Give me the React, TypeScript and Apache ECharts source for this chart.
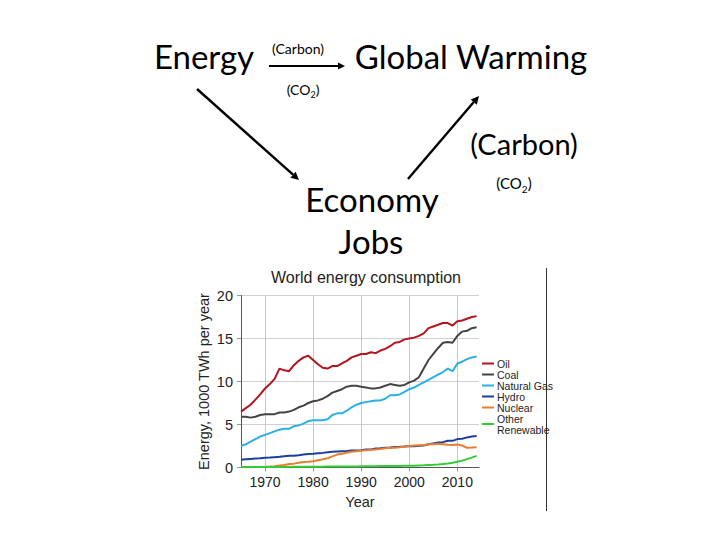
import React, { useEffect, useRef } from "react";
import * as echarts from "echarts";

const startYear = 1965;
const yearTicks = [1970, 1980, 1990, 2000, 2010];
const yTicks = [0, 5, 10, 15, 20];

const oil = [6.5, 6.9, 7.3, 7.9, 8.5, 9.2, 9.7, 10.3, 11.5, 11.3, 11.2, 11.9, 12.4, 12.8, 13.0, 12.5, 12.0, 11.6, 11.5, 11.8, 11.8, 12.1, 12.4, 12.8, 13.0, 13.2, 13.2, 13.4, 13.3, 13.6, 13.8, 14.1, 14.5, 14.6, 14.9, 15.0, 15.1, 15.3, 15.6, 16.2, 16.4, 16.6, 16.8, 16.8, 16.5, 17.0, 17.1, 17.3, 17.5, 17.6];
const coal = [5.9, 5.9, 5.8, 5.9, 6.1, 6.2, 6.2, 6.2, 6.4, 6.4, 6.5, 6.7, 7.0, 7.2, 7.5, 7.7, 7.8, 8.0, 8.3, 8.7, 8.9, 9.1, 9.4, 9.5, 9.5, 9.4, 9.3, 9.2, 9.2, 9.3, 9.5, 9.7, 9.6, 9.5, 9.6, 9.9, 10.1, 10.5, 11.5, 12.5, 13.2, 13.9, 14.5, 14.6, 14.5, 15.3, 15.8, 15.9, 16.2, 16.3];
const gas = [2.5, 2.7, 3.0, 3.3, 3.6, 3.8, 4.0, 4.2, 4.4, 4.5, 4.5, 4.8, 4.9, 5.1, 5.4, 5.5, 5.5, 5.5, 5.6, 6.1, 6.3, 6.3, 6.6, 7.0, 7.3, 7.5, 7.6, 7.7, 7.8, 7.8, 8.0, 8.4, 8.4, 8.5, 8.8, 9.1, 9.3, 9.6, 9.9, 10.2, 10.5, 10.8, 11.1, 11.5, 11.2, 12.1, 12.3, 12.6, 12.8, 12.9];
const hydro = [0.9, 0.95, 1.0, 1.05, 1.08, 1.12, 1.15, 1.2, 1.25, 1.32, 1.36, 1.38, 1.42, 1.5, 1.58, 1.6, 1.65, 1.7, 1.77, 1.82, 1.86, 1.9, 1.92, 1.97, 1.98, 2.02, 2.08, 2.1, 2.2, 2.23, 2.3, 2.33, 2.38, 2.4, 2.44, 2.5, 2.48, 2.52, 2.55, 2.7, 2.8, 2.9, 2.95, 3.1, 3.1, 3.3, 3.35, 3.5, 3.6, 3.65];
const nuclear = [0.03, 0.04, 0.05, 0.06, 0.07, 0.09, 0.12, 0.16, 0.22, 0.3, 0.4, 0.45, 0.55, 0.65, 0.68, 0.73, 0.85, 0.95, 1.08, 1.3, 1.5, 1.6, 1.72, 1.83, 1.88, 1.95, 2.02, 2.05, 2.1, 2.15, 2.25, 2.3, 2.3, 2.35, 2.45, 2.5, 2.55, 2.6, 2.58, 2.7, 2.7, 2.75, 2.7, 2.65, 2.62, 2.68, 2.55, 2.3, 2.32, 2.35];
const other = [0.05, 0.05, 0.05, 0.06, 0.06, 0.06, 0.06, 0.07, 0.07, 0.07, 0.08, 0.08, 0.08, 0.09, 0.09, 0.1, 0.1, 0.1, 0.11, 0.11, 0.12, 0.12, 0.12, 0.13, 0.13, 0.14, 0.14, 0.15, 0.15, 0.16, 0.16, 0.17, 0.18, 0.18, 0.19, 0.2, 0.21, 0.23, 0.25, 0.28, 0.31, 0.35, 0.4, 0.47, 0.55, 0.68, 0.8, 0.97, 1.15, 1.35];

const seriesNames = ["Oil", "Coal", "Natural Gas", "Hydro", "Nuclear", "Other Renewable"];
const seriesValues = [oil, coal, gas, hydro, nuclear, other];
const seriesColors = ["#b3141e", "#444444", "#2bb0e2", "#1b3fa0", "#ec7d2c", "#33cc33"];

const diagramFont = "Lato, 'Open Sans', sans-serif";
const chartFont = "'Liberation Sans', Arial, sans-serif";

function arrow(x1: number, y1: number, x2: number, y2: number, head = 7, width = 2.2) {
  const ang = Math.atan2(y2 - y1, x2 - x1);
  const c = Math.cos(ang);
  const s = Math.sin(ang);
  const bx = x2 - head * c;
  const by = y2 - head * s;
  const hw = head * 0.5;
  return [
    {
      type: "line",
      shape: { x1, y1, x2: bx, y2: by },
      style: { stroke: "#000", lineWidth: width },
    },
    {
      type: "polygon",
      shape: {
        points: [
          [x2, y2],
          [bx - s * hw, by + c * hw],
          [bx + s * hw, by - c * hw],
        ],
      },
      style: { fill: "#000" },
    },
  ];
}

function label(text: string, x: number, y: number, size: number, rich?: any) {
  return {
    type: "text",
    x,
    y,
    style: {
      text,
      fontFamily: diagramFont,
      fontSize: size,
      fill: "#000",
      align: "center",
      verticalAlign: "middle",
      rich,
    },
  };
}

const subRich = (base: number) => ({
  b: { fontSize: base, fontFamily: diagramFont, fill: "#000", lineHeight: base * 1.3 },
  s: {
    fontSize: Math.round(base * 0.65),
    fontFamily: diagramFont,
    fill: "#000",
    padding: [Math.round(base * 0.7), 0, 0, 0],
  },
});

export default function App() {
  const ref = useRef<HTMLDivElement>(null);

  useEffect(() => {
    if (!ref.current) return;
    const chart = echarts.init(ref.current, null, { renderer: "svg" });

    const series = seriesNames.map((name, i) => ({
      name,
      type: "line",
      data: seriesValues[i].map((v, j) => [startYear + j, v]),
      showSymbol: false,
      symbol: "none",
      lineStyle: { width: 2, color: seriesColors[i] },
      itemStyle: { color: seriesColors[i] },
    }));

    const graphics: any[] = [
      label("Energy", 204, 56, 33),
      label("(Carbon)", 298, 48, 14),
      { ...label("{b|(CO}{s|2}{b|)}", 303, 89, 14, subRich(14)) },
      ...arrow(269, 66, 345, 66, 7, 2),
      label("Global Warming", 471, 56, 33),
      ...arrow(197, 89, 299, 180, 8, 2.4),
      ...arrow(408, 179, 479, 96, 8, 2.4),
      label("(Carbon)", 524, 143, 29),
      { ...label("{b|(CO}{s|2}{b|)}", 514, 183, 15, subRich(15)) },
      label("Economy", 372, 199, 33),
      label("Jobs", 371, 241, 33),
      {
        type: "line",
        shape: { x1: 546.5, y1: 268, x2: 546.5, y2: 511 },
        style: { stroke: "#333", lineWidth: 1 },
      },
    ];

    chart.setOption({
      animation: false,
      backgroundColor: "#ffffff",
      title: {
        text: "World energy consumption",
        left: 361,
        top: 264,
        textAlign: "center",
        textStyle: { fontFamily: chartFont, fontSize: 16, fontWeight: "normal", color: "#222" },
      },
      grid: { left: 241, right: 241, top: 295.5, bottom: 72.5, containLabel: false },
      legend: {
        orient: "vertical",
        left: 477,
        top: 353,
        itemGap: 0,
        itemWidth: 12,
        itemHeight: 2,
        icon: "rect",
        data: seriesNames,
        formatter: (n: string) => (n === "Other Renewable" ? "Other\nRenewable" : n),
        textStyle: { fontFamily: chartFont, fontSize: 10.5, lineHeight: 11, color: "#222", padding: [0, 0, 0, -2] },
      },
      xAxis: {
        type: "value",
        min: 1965,
        max: 2014.5,
        name: "Year",
        nameLocation: "middle",
        nameGap: 27,
        nameTextStyle: { fontFamily: chartFont, fontSize: 14.5, color: "#222" },
        axisLine: { show: true, lineStyle: { color: "#555", width: 1 } },
        axisTick: { show: true, customValues: yearTicks, length: 4, lineStyle: { color: "#999" } },
        axisLabel: {
          customValues: yearTicks,
          formatter: (v: number) => String(v),
          fontFamily: chartFont,
          fontSize: 14,
          color: "#222",
          margin: 7,
        },
        splitLine: { show: true, lineStyle: { color: "#c8c8c8", width: 1 } },
      },
      yAxis: {
        type: "value",
        min: 0,
        max: 20,
        interval: 5,
        name: "Energy, 1000 TWh per year",
        nameLocation: "middle",
        nameGap: 30,
        nameTextStyle: { fontFamily: chartFont, fontSize: 14.5, color: "#222" },
        axisLine: { show: true, lineStyle: { color: "#555", width: 1 } },
        axisTick: { show: true, length: 4, lineStyle: { color: "#999" } },
        axisLabel: { fontFamily: chartFont, fontSize: 14.5, color: "#222", margin: 8 },
        splitLine: { show: true, lineStyle: { color: "#d0d0d0", width: 1 } },
      },
      series,
      graphic: graphics,
    });

    return () => chart.dispose();
  }, []);

  return (
    <div
      ref={ref}
      style={{ position: "absolute", left: 0, top: 0, width: 720, height: 540, background: "#fff" }}
    />
  );
}
